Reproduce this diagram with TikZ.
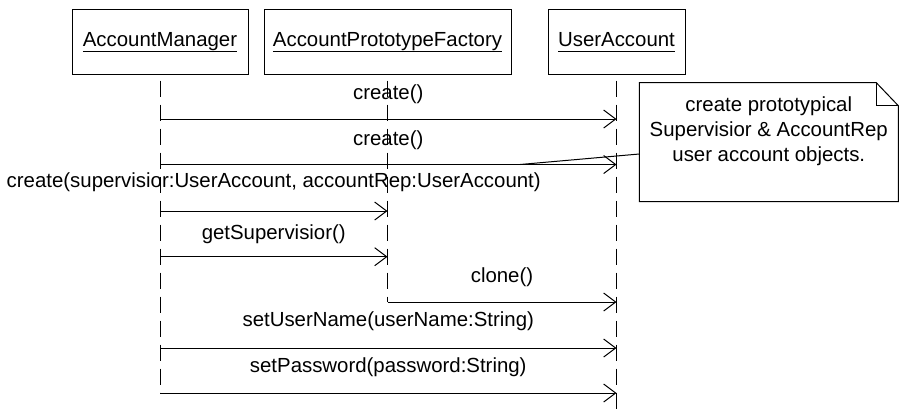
\documentclass[tikz,border=0pt]{standalone}
\usepackage{fontspec}
\setmainfont{Liberation Sans}
\usetikzlibrary{arrows.meta}
\newcommand{\hul}[1]{\setbox0=\hbox{#1}\rlap{\rule[-5.5pt]{\wd0}{1pt}}\box0}
\begin{document}
\begin{tikzpicture}[x=1pt,y=-1pt,line width=1pt,
  font=\fontsize{20.4}{25}\selectfont,
  objbox/.style={draw, minimum height=65pt, inner sep=0pt, text height=14.5pt, text depth=4.5pt},
  lifeline/.style={dash pattern=on 16pt off 8pt, dash phase=18pt},
  msg/.style={-{Straight Barb[length=12pt,width=18pt]}},
  lbl/.style={inner sep=0pt, anchor=base}]
\useasboundingbox (0,0) rectangle (900,416);
% objects
\node[objbox, minimum width=176pt] (am) at (160,41.5) {\hul{AccountManager}};
\node[objbox, minimum width=247pt] (pf) at (387.5,41.5) {\hul{AccountPrototypeFactory}};
\node[objbox, minimum width=137pt] (ua) at (616.5,41.5) {\hul{UserAccount}};
% lifeline ends
\coordinate (amEnd) at (am.south |- 0,393);
\coordinate (pfEnd) at (pf.south |- 0,302);
\coordinate (uaEnd) at (ua.south |- 0,416);
\draw[lifeline] (am.south) -- (amEnd);
\draw[lifeline] (pf.south) -- (pfEnd);
\draw[lifeline] (ua.south) -- (uaEnd);
% message end points
\coordinate (m1a) at (am.south |- 0,119);   \coordinate (m1b) at (ua.south |- 0,119);
\coordinate (m2a) at (am.south |- 0,164.5); \coordinate (m2b) at (ua.south |- 0,164.5);
\coordinate (m3a) at (am.south |- 0,211);   \coordinate (m3b) at (pf.south |- 0,211);
\coordinate (m4a) at (am.south |- 0,256.7); \coordinate (m4b) at (pf.south |- 0,256.7);
\coordinate (m5a) at (pf.south |- 0,302);   \coordinate (m5b) at (ua.south |- 0,302);
\coordinate (m6a) at (am.south |- 0,348);   \coordinate (m6b) at (ua.south |- 0,348);
\coordinate (m7a) at (am.south |- 0,393);   \coordinate (m7b) at (ua.south |- 0,393);
% messages
\draw[msg] (m1a) -- (m1b) node[lbl, midway, yshift=20pt] (l1) {create()};
\draw[msg] (m2a) -- (m2b) node[lbl, midway, yshift=19.5pt] (l2) {create()};
\draw[msg] (m3a) -- (m3b) node[lbl, midway, yshift=23.5pt] (l3) {create(supervisior:UserAccount, accountRep:UserAccount)};
\draw[msg] (m4a) -- (m4b) node[lbl, midway, yshift=17.5pt] (l4) {getSupervisior()};
\draw[msg] (m5a) -- (m5b) node[lbl, midway, yshift=19.5pt] (l5) {clone()};
\draw[msg] (m6a) -- (m6b) node[lbl, midway, yshift=22pt] (l6) {setUserName(userName:String)};
\draw[msg] (m7a) -- (m7b) node[lbl, midway, yshift=21pt] (l7) {setPassword(password:String)};
% note
\node[minimum width=258pt, minimum height=118pt, inner sep=0pt] (note) at (768.8,142.2) {};
\draw[fill=white] (note.north west) -- ([xshift=-22pt]note.north east) -- ([yshift=-23pt]note.north east) -- (note.south east) -- (note.south west) -- cycle;
\draw ([xshift=-22pt]note.north east) |- ([yshift=-23pt]note.north east);
\node[align=center, inner sep=0pt, anchor=north] (notetxt) at ([yshift=-13.8pt]note.north) {create prototypical\\Supervisior \& AccountRep\\user account objects.};
\coordinate (anc) at (520,164.5);
\draw ([yshift=-11.8pt]note.west) -- (anc);
\end{tikzpicture}
\end{document}
